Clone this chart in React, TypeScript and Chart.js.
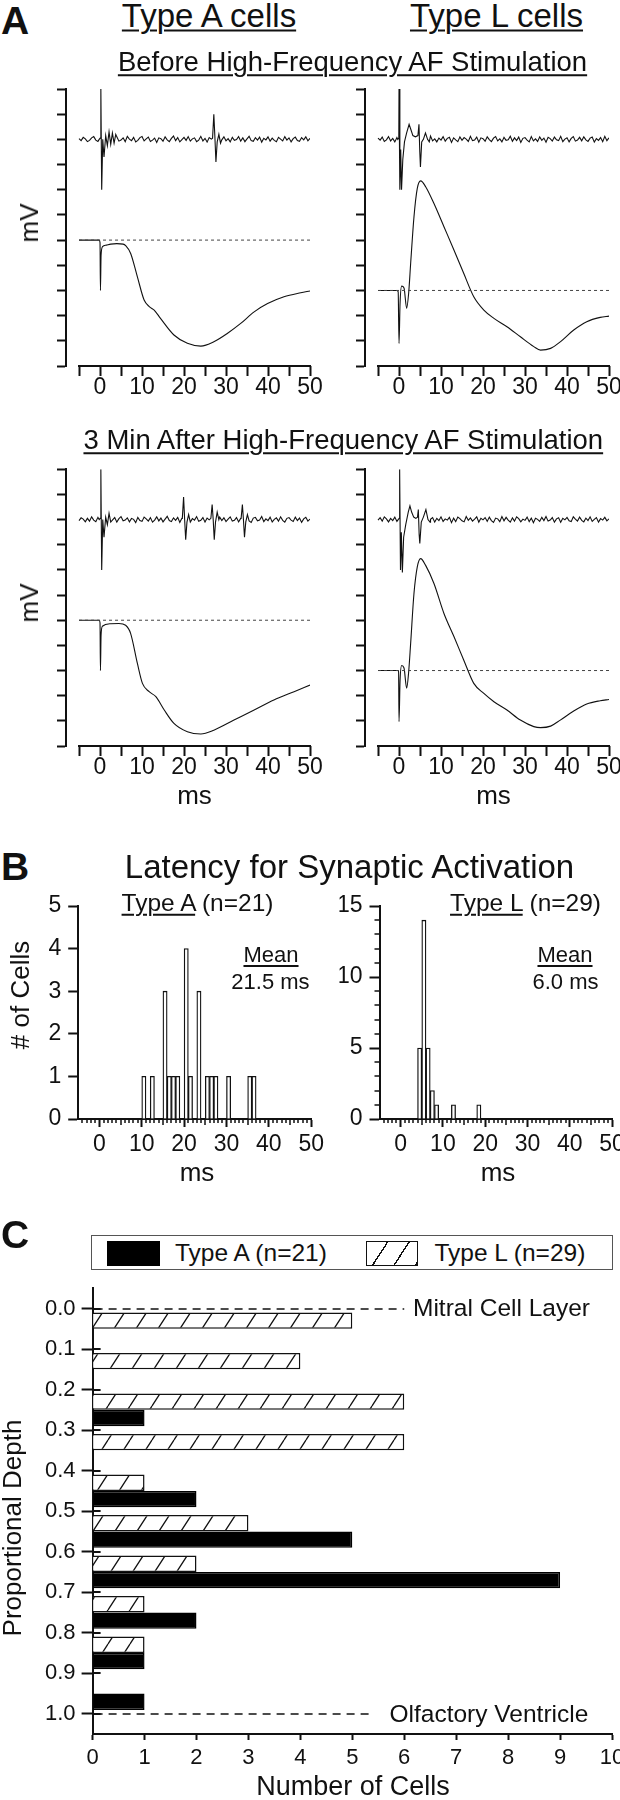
import React, { useEffect, useRef } from 'react';
import { Chart, registerables } from 'chart.js';

Chart.register(...registerables);

const FONT = '"Liberation Sans", Arial, Helvetica, sans-serif';
const INK = '#111';

// ================= Panel A data =================
const A_X_TICKS = [-5, 0, 5, 10, 15, 20, 25, 30, 35, 40, 45, 50];
const A_X_LABELS = [0, 10, 20, 30, 40, 50];
const A_Y_TICKS = [0, 1, 2, 3, 4, 5, 6, 7, 8, 9, 10, 11];

// extracellular traces: background noise sampled every 0.5 ms from -5 ms (hundredths of a division)
const EXT_START_MS = -5;
const EXT_STEP_MS = 0.5;
const EXT_LEVEL = 9;
const INTRA_A_LEVEL = 5;
const INTRA_L_LEVEL = 3;

const NOISE_A_BEFORE = [
  3, -5, 8, 2, -9, -4, 6, 11, -3, -8,
  5, -2, 9, -6, -11, 4, 7, -1, 10, -7,
  -3, 6, -9, 12, 1, -5, 8, -10, -4, 7,
  11, -6, 2, 9, -8, -3, 5, -12, 6, 3,
  -7, 10, -2, -9, 4, 13, -5, 7, -10, -1,
  8, -4, 11, -7, 2, 6, -9, -3, 12, -6,
  4, -11, 7, 1, -5, 9, -8, 5, -2, 10,
  -6, 3, -10, 8, -4, -1, 11, -7, 6, -9,
  2, 12, -5, -8, 7, -3, 9, -11, 4, -2,
  10, -7, 5, -4, -9, 8, 1, -6, 11, -3,
  6, -10, 3, 9, -5, -8, 7, -2, 10, -6,
  4,
];
const NOISE_A_AFTER = [
  -4, 7, 2, -9, 5, -6, 11, -2, -8, 9,
  3, -11, 6, -3, 10, -7, -1, 8, -10, 4,
  12, -5, -2, 7, -9, 5, 1, -12, 9, -4,
  -7, 10, 3, -6, 8, -10, -2, 11, -5, 6,
  -9, 2, 13, -4, -8, 7, -3, 9, -11, 5,
  1, -6, 10, -8, 4, -2, 12, -7, -3, 8,
  -10, 6, -1, 9, -5, 3, -12, 10, -4, 7,
  -8, 2, 11, -6, -3, 8, -9, 5, -1, 10,
  -7, 4, -11, 6, 9, -5, -2, 12, -8, 3,
  -4, 10, -9, 1, 7, -6, 11, -3, -10, 5,
  8, -2, -7, 10, -4, 6, -11, 3, 9, -6,
  2,
];
const NOISE_L_BEFORE = [
  5, -3, 9, -8, -2, 11, -6, 4, -10, 7,
  1, -9, 12, -4, 6, -7, -2, 10, -11, 3,
  8, -5, -1, 9, -8, 13, -6, 2, -10, 5,
  -3, 11, -7, 4, 8, -12, 6, -2, -9, 10,
  -4, 7, 1, -8, 12, -5, -3, 9, -11, 6,
  3, -7, 10, -1, -9, 5, 11, -6, 2, -10,
  8, -4, -2, 12, -8, 6, -5, 9, -12, 4,
  7, -3, -10, 11, -6, 2, -8, 10, -4, 5,
  -11, 8, 3, -7, 9, -2, -5, 12, -9, 1,
  6, -10, 4, 11, -7, -3, 8, -6, 10, -2,
  -8, 5, 9, -11, 3, -4, 7, -9, 12, -5,
  6,
];
const NOISE_L_AFTER = [
  -2, 8, -6, 11, 3, -9, 5, -4, 10, -7,
  -1, 12, -8, 4, -10, 6, 2, -11, 9, -5,
  7, -3, -9, 13, -6, 1, 8, -10, 5, -4,
  11, -7, 3, -2, 9, -12, 6, -8, 10, 4,
  -5, -9, 12, -3, 7, -6, 2, 11, -10, 5,
  -1, 8, -7, 10, -4, -11, 6, 3, -8, 12,
  -5, 9, -2, -10, 7, -6, 11, 4, -9, 2,
  -3, 10, -8, 6, -12, 5, 1, -7, 9, -4,
  12, -6, -2, 8, -10, 3, 7, -11, 5, -1,
  9, -5, -8, 11, 2, -6, 10, -3, -9, 6,
  -4, 11, -7, 1, 8, -10, 4, -2, 9, -5,
  3,
];

// spikes / stimulus artefacts on the extracellular traces: [ms, level]
const EVENTS_A_BEFORE = [
  [[-0.2, 9.0], [0.05, 9.05], [0.2, 11.0], [0.4, 7.0], [0.65, 9.0], [0.95, 8.3], [1.35, 9.15], [1.75, 8.75], [2.15, 9.3], [2.55, 8.8], [2.95, 9.25], [3.35, 8.85], [3.75, 9.2]],
  [[26.8, 9.05], [27.1, 10.0], [27.35, 9.1], [27.6, 8.1], [27.9, 8.9], [28.3, 9.2], [28.7, 8.85]],
];
const EVENTS_A_AFTER = [
  [[-0.2, 9.0], [0.05, 9.05], [0.2, 11.0], [0.4, 7.0], [0.65, 9.0], [0.95, 8.3], [1.35, 9.1], [1.75, 8.8], [2.15, 9.25], [2.55, 8.9]],
  [[19.6, 9.05], [19.9, 9.9], [20.15, 9.0], [20.4, 8.2], [20.7, 8.9], [21.1, 9.2], [21.5, 8.9]],
  [[26.4, 9.05], [26.7, 9.6], [26.95, 9.0], [27.2, 8.2], [27.5, 8.9], [27.9, 9.3], [28.3, 9.0]],
  [[33.6, 9.05], [33.9, 9.6], [34.15, 9.0], [34.4, 8.3], [34.7, 8.9], [35.1, 9.2], [35.5, 8.95]],
];
const EVENTS_L_BEFORE = [
  [[-0.3, 9.0], [-0.05, 9.05], [0.0, 11.0], [0.2, 7.0], [0.4, 8.6], [0.6, 7.0], [0.9, 8.2], [1.3, 8.9], [1.8, 9.25], [2.4, 9.6], [2.8, 9.4], [3.3, 9.15], [3.9, 9.1], [4.5, 9.15], [4.75, 9.6], [4.95, 8.5], [5.1, 7.9], [5.4, 8.9], [5.8, 9.0], [6.3, 9.25], [6.8, 9.0], [7.2, 8.9]],
];
const EVENTS_L_AFTER = [
  [[-0.2, 9.0], [0.05, 9.05], [0.15, 11.0], [0.35, 7.0], [0.55, 8.5], [0.8, 6.9], [1.1, 8.3], [1.6, 8.8], [2.2, 9.3], [2.6, 9.55], [3.0, 9.3], [3.5, 9.1], [4.0, 9.05], [4.4, 9.1], [4.6, 9.4], [4.8, 8.4], [4.95, 8.05], [5.3, 8.9], [5.8, 9.1], [6.4, 9.4], [6.9, 9.0], [7.4, 8.9]],
];

// intracellular (field) traces: [ms, level]
const INTRA_A_BEFORE = [
  [-5, 5.0], [-0.2, 5.0], [0.0, 4.9], [0.1, 3.0], [0.25, 4.4], [0.6, 4.74], [1.5, 4.8], [2.55, 4.84], [4.0, 4.86], [5.5, 4.84], [6.1, 4.78],
  [7.3, 4.47], [8.9, 3.54], [10.5, 2.62], [11.8, 2.35], [12.9, 2.22], [14.4, 1.89], [17.6, 1.23], [20.8, 0.9], [24, 0.79], [27.1, 0.96],
  [30.3, 1.29], [33.5, 1.69], [36.7, 2.15], [39.9, 2.48], [43.8, 2.75], [47.8, 2.91], [50, 2.98],
];
const INTRA_A_AFTER = [
  [-5, 5.0], [-0.2, 5.0], [0.0, 4.9], [0.1, 3.0], [0.25, 4.4], [0.56, 4.76], [2.55, 4.86], [4.5, 4.87], [6.1, 4.8], [7.3, 4.47],
  [8.9, 3.28], [10.1, 2.49], [11.7, 2.16], [13.3, 1.96], [15.3, 1.43], [17.6, 0.9], [20.8, 0.57], [24, 0.48], [27.1, 0.63],
  [31.9, 1.03], [36.7, 1.43], [41.4, 1.83], [46.2, 2.16], [50, 2.42],
];
const INTRA_L_BEFORE = [
  [-5, 3.0], [-0.55, 3.0], [-0.2, 2.95], [0.0, 0.9], [0.25, 2.5], [0.63, 3.17], [1.19, 3.1], [1.82, 2.29], [2.3, 2.9], [2.77, 4.07],
  [3.56, 5.92], [4.35, 7.05], [5.15, 7.35], [6.34, 7.12], [8.32, 6.45], [10.7, 5.53], [13.1, 4.6], [15.4, 3.68], [17.8, 2.75],
  [20.2, 2.22], [22.6, 1.89], [25.7, 1.56], [28.9, 1.16], [32.1, 0.77], [33.7, 0.63], [36.1, 0.7], [38.4, 0.96], [41.6, 1.43],
  [44.7, 1.76], [47.9, 1.93], [50, 1.98],
];
const INTRA_L_AFTER = [
  [-5, 3.0], [-0.3, 3.0], [-0.1, 2.95], [0.0, 0.97], [0.25, 2.6], [0.63, 3.2], [1.19, 3.1], [1.82, 2.3], [2.3, 2.95], [2.77, 4.08],
  [3.56, 6.06], [4.35, 7.12], [5.15, 7.45], [6.34, 7.18], [8.32, 6.46], [10.7, 5.27], [13.1, 4.34], [15.4, 3.42], [17.8, 2.49],
  [20.2, 2.09], [22.6, 1.76], [25.7, 1.43], [28.9, 1.03], [32.1, 0.77], [33.7, 0.73], [36.1, 0.79], [38.4, 1.03], [41.6, 1.39],
  [44.7, 1.67], [47.9, 1.8], [50, 1.85],
];

// ================= Panel B data =================
const HIST_X_LABELS = [0, 10, 20, 30, 40, 50];
const HIST_A_BINS = [10.5, 12.5, 15.5, 16.5, 17.5, 18.5, 20.5, 21.5, 23.5, 25.5, 26.5, 27.5, 30.5, 35.5, 36.5];
const HIST_A_COUNTS = [1, 1, 3, 1, 1, 1, 4, 1, 3, 1, 1, 1, 1, 1, 1];
const HIST_A_Y_TICKS = [0, 1, 2, 3, 4, 5];
const HIST_L_BINS = [4.5, 5.5, 6.5, 7.5, 8.5, 12.5, 18.5];
const HIST_L_COUNTS = [5, 14, 5, 2, 1, 1, 1];
const HIST_L_Y_TICKS = [0, 5, 10, 15];

// ================= Panel C data =================
const DEPTH_CENTERS = [0.05, 0.15, 0.25, 0.35, 0.45, 0.55, 0.65, 0.75, 0.85, 0.95];
const TYPE_A_COUNTS = [0, 0, 1, 0, 2, 5, 9, 2, 1, 1];
const TYPE_L_COUNTS = [5, 4, 6, 6, 1, 3, 2, 1, 1, 0];
const C_Y_TICKS = [0.0, 0.1, 0.2, 0.3, 0.4, 0.5, 0.6, 0.7, 0.8, 0.9, 1.0];
const C_X_TICKS = [0, 1, 2, 3, 4, 5, 6, 7, 8, 9, 10];
const REF_LINES = [
  { depth: 0.0, to: 6.0, label: 'Mitral Cell Layer' },
  { depth: 1.0, to: 5.4, label: 'Olfactory Ventricle' },
];

// ================= helpers =================
function extTrace(noise: number[], events: number[][][]) {
  const windows = events.map((g) => [g[0][0], g[g.length - 1][0]]);
  const pts: { x: number; y: number }[] = [];
  noise.forEach((d, i) => {
    const t = EXT_START_MS + i * EXT_STEP_MS;
    if (windows.some(([a, b]) => t >= a && t <= b)) return;
    pts.push({ x: t, y: EXT_LEVEL + d / 100 });
  });
  events.forEach((g) => g.forEach(([t, y]) => pts.push({ x: t, y })));
  return pts.sort((p, q) => p.x - q.x);
}
const toXY = (arr: number[][]) => arr.map(([x, y]) => ({ x, y }));

const axisLinePlugin = (from: number, to: number) => ({
  id: 'axisLine',
  afterDraw(chart: any) {
    const s = chart.scales.x;
    const ctx = chart.ctx;
    const y = chart.chartArea.bottom;
    ctx.save();
    ctx.strokeStyle = INK;
    ctx.lineWidth = 2;
    ctx.beginPath();
    ctx.moveTo(s.getPixelForValue(from) - 1, y);
    ctx.lineTo(s.getPixelForValue(to) + 1, y);
    ctx.stroke();
    ctx.restore();
  },
});

type TickSet = { axis: 'x' | 'y'; values: number[]; len: number; dir?: 'in' | 'out'; width?: number };
const extraTicksPlugin = (items: TickSet[]) => ({
  id: 'extraTicks',
  afterDraw(chart: any) {
    const ctx = chart.ctx;
    const ca = chart.chartArea;
    items.forEach((it) => {
      const s = chart.scales[it.axis];
      ctx.save();
      ctx.strokeStyle = INK;
      ctx.lineWidth = it.width || 1.5;
      ctx.beginPath();
      it.values.forEach((v) => {
        const p = Math.round(s.getPixelForValue(v));
        if (it.axis === 'x') {
          const y0 = ca.bottom;
          ctx.moveTo(p, y0);
          ctx.lineTo(p, it.dir === 'in' ? y0 - it.len : y0 + it.len);
        } else {
          const x0 = ca.left;
          ctx.moveTo(x0, p);
          ctx.lineTo(it.dir === 'in' ? x0 + it.len : x0 - it.len, p);
        }
      });
      ctx.stroke();
      ctx.restore();
    });
  },
});

const refLinesPlugin = (lines: { depth: number; to: number }[]) => ({
  id: 'refLines',
  afterDatasetsDraw(chart: any) {
    const ctx = chart.ctx;
    const sx = chart.scales.x;
    const sy = chart.scales.y;
    ctx.save();
    ctx.strokeStyle = INK;
    ctx.lineWidth = 1.5;
    ctx.setLineDash([8, 6]);
    lines.forEach((l) => {
      const y = Math.round(sy.getPixelForValue(l.depth));
      ctx.beginPath();
      ctx.moveTo(sx.getPixelForValue(0) + 2, y);
      ctx.lineTo(sx.getPixelForValue(l.to), y);
      ctx.stroke();
    });
    ctx.restore();
  },
});

function makeHatch() {
  const c = document.createElement('canvas');
  c.width = 22;
  c.height = 34;
  const g = c.getContext('2d')!;
  g.fillStyle = '#fff';
  g.fillRect(0, 0, 22, 34);
  g.strokeStyle = INK;
  g.lineWidth = 1.3;
  g.beginPath();
  [-22, 0, 22].forEach((dx) => {
    g.moveTo(dx, 34);
    g.lineTo(dx + 22, 0);
  });
  g.stroke();
  return g.createPattern(c, 'repeat');
}

const tickFont = (size: number) => ({ family: FONT, size, lineHeight: 1 });

// ================= chart configs =================
function traceConfig(ext: any[], intra: any[], level: number, yW: number, xH: number, padding: any) {
  return {
    type: 'line',
    data: {
      datasets: [
        { data: [{ x: -5, y: level }, { x: 50, y: level }], borderColor: '#444', borderWidth: 1, borderDash: [3, 3], pointRadius: 0 },
        { data: ext, borderColor: INK, borderWidth: 1.1, pointRadius: 0, tension: 0 },
        { data: intra, borderColor: INK, borderWidth: 1.1, pointRadius: 0, cubicInterpolationMode: 'monotone' },
      ],
    },
    options: {
      animation: false,
      responsive: false,
      events: [],
      layout: { padding, autoPadding: false },
      plugins: { legend: { display: false }, tooltip: { enabled: false } },
      scales: {
        x: {
          type: 'linear', min: -8.1, max: 50,
          afterBuildTicks: (s: any) => { s.ticks = A_X_TICKS.map((v) => ({ value: v })); },
          afterFit: (s: any) => { s.height = xH; },
          border: { display: false },
          grid: { drawOnChartArea: false, drawTicks: true, tickLength: 10, tickWidth: 2, tickColor: INK },
          ticks: {
            autoSkip: false, maxRotation: 0, padding: 0, color: INK, font: tickFont(23),
            callback: (v: number) => (A_X_LABELS.includes(v) ? String(v) : ''),
          },
        },
        y: {
          type: 'linear', min: 0, max: 11,
          afterBuildTicks: (s: any) => { s.ticks = A_Y_TICKS.map((v) => ({ value: v })); },
          afterFit: (s: any) => { s.width = yW; },
          border: { display: true, width: 2, color: INK },
          grid: { drawOnChartArea: false, drawTicks: true, tickLength: 9, tickWidth: 2, tickColor: INK },
          ticks: { display: false },
        },
      },
    },
    plugins: [axisLinePlugin(-5, 50)],
  };
}

function histConfig(bins: number[], counts: number[], yMax: number, yTicks: number[], minorY: number[], yW: number, xH: number, padding: any) {
  const minorX: number[] = [];
  const midX: number[] = [];
  for (let v = -4; v <= 49; v++) {
    if (v % 10 === 0) continue;
    if (v % 5 === 0) midX.push(v);
    else minorX.push(v);
  }
  const items: TickSet[] = [
    { axis: 'x', values: minorX, len: 4 },
    { axis: 'x', values: midX, len: 6 },
  ];
  if (minorY.length) items.push({ axis: 'y', values: minorY, len: 5 });
  return {
    type: 'bar',
    data: {
      datasets: [{
        data: bins.map((b, i) => ({ x: b, y: counts[i] })),
        backgroundColor: '#fff', borderColor: INK, borderWidth: 1.3,
        barPercentage: 1, categoryPercentage: 1,
      }],
    },
    options: {
      animation: false,
      responsive: false,
      events: [],
      layout: { padding, autoPadding: false },
      plugins: { legend: { display: false }, tooltip: { enabled: false } },
      scales: {
        x: {
          type: 'linear', min: -5, max: 50, offset: false,
          afterBuildTicks: (s: any) => { s.ticks = HIST_X_LABELS.map((v) => ({ value: v })); },
          afterFit: (s: any) => { s.height = xH; },
          border: { display: true, width: 2, color: INK },
          grid: { offset: false, drawOnChartArea: false, drawTicks: true, tickLength: 8, tickWidth: 2, tickColor: INK },
          ticks: { autoSkip: false, maxRotation: 0, padding: 6.5, color: INK, font: tickFont(23) },
        },
        y: {
          type: 'linear', min: 0, max: yMax,
          afterBuildTicks: (s: any) => { s.ticks = yTicks.map((v) => ({ value: v })); },
          afterFit: (s: any) => { s.width = yW; },
          border: { display: true, width: 2, color: INK },
          grid: { drawOnChartArea: false, drawTicks: true, tickLength: 10, tickWidth: 2, tickColor: INK },
          ticks: { autoSkip: false, padding: 7, color: INK, font: tickFont(23) },
        },
      },
    },
    plugins: [extraTicksPlugin(items)],
  };
}

function depthConfig(yW: number, xH: number, padding: any) {
  const hatch = makeHatch();
  return {
    type: 'bar',
    data: {
      datasets: [
        {
          label: 'Type L (n=29)',
          data: DEPTH_CENTERS.map((d, i) => ({ x: TYPE_L_COUNTS[i] === 0 ? null : TYPE_L_COUNTS[i], y: d })),
          backgroundColor: hatch, borderColor: INK, borderWidth: 1.5,
          barPercentage: 1, categoryPercentage: 0.81,
        },
        {
          label: 'Type A (n=21)',
          data: DEPTH_CENTERS.map((d, i) => ({ x: TYPE_A_COUNTS[i] === 0 ? null : TYPE_A_COUNTS[i], y: d })),
          backgroundColor: '#000', borderColor: '#000', borderWidth: 1.5,
          barPercentage: 1, categoryPercentage: 0.81,
        },
      ],
    },
    options: {
      indexAxis: 'y',
      animation: false,
      responsive: false,
      events: [],
      layout: { padding, autoPadding: false },
      plugins: { legend: { display: false }, tooltip: { enabled: false } },
      scales: {
        x: {
          type: 'linear', min: 0, max: 10, offset: false,
          afterBuildTicks: (s: any) => { s.ticks = C_X_TICKS.map((v) => ({ value: v })); },
          afterFit: (s: any) => { s.height = xH; },
          border: { display: true, width: 2, color: INK },
          grid: { offset: false, drawOnChartArea: false, drawTicks: true, tickLength: 6, tickWidth: 2, tickColor: INK },
          ticks: { autoSkip: false, maxRotation: 0, padding: 7, color: INK, font: tickFont(22) },
        },
        y: {
          type: 'linear', min: -0.05, max: 1.05, reverse: true, offset: false,
          afterBuildTicks: (s: any) => { s.ticks = C_Y_TICKS.map((v) => ({ value: v })); },
          afterFit: (s: any) => { s.width = yW; },
          border: { display: true, width: 2, color: INK },
          grid: { offset: false, drawOnChartArea: false, drawTicks: true, tickLength: 11, tickWidth: 2, tickColor: INK },
          ticks: { autoSkip: false, padding: 6, color: INK, font: tickFont(22), callback: (v: number) => v.toFixed(1) },
        },
      },
    },
    plugins: [
      refLinesPlugin(REF_LINES),
      extraTicksPlugin([{ axis: 'y', values: C_Y_TICKS, len: 8, dir: 'in', width: 2 }]),
    ],
  };
}

// ================= components =================
type Rect = { x: number; y: number; w: number; h: number };
type Area = { l: number; t: number; r: number; b: number };

function ChartBox({ rect, area, yW, xH, make }: { rect: Rect; area: Area; yW: number; xH: number; make: (yW: number, xH: number, padding: any) => any }) {
  const ref = useRef<HTMLCanvasElement>(null);
  useEffect(() => {
    const padding = {
      left: area.l - rect.x - yW,
      top: area.t - rect.y,
      right: rect.x + rect.w - area.r,
      bottom: rect.y + rect.h - area.b - xH,
    };
    const chart = new Chart(ref.current as any, make(yW, xH, padding));
    return () => chart.destroy();
  }, []);
  return (
    <canvas
      ref={ref}
      width={rect.w}
      height={rect.h}
      style={{ position: 'absolute', left: rect.x, top: rect.y, width: rect.w, height: rect.h }}
    />
  );
}

function Txt({ x, y, size, anchor = 'center', bold = false, rot = 0, underline = false, children }: any) {
  const tx = anchor === 'center' ? '-50%' : anchor === 'right' ? '-100%' : '0%';
  return (
    <div
      style={{
        position: 'absolute', left: x, top: y, whiteSpace: 'nowrap',
        fontFamily: FONT, fontSize: size, fontWeight: bold ? 'bold' : 'normal', lineHeight: 1, color: INK,
        transform: `translate(${tx}, -50%) rotate(${rot}deg)`,
        textDecoration: underline ? 'underline' : 'none',
        textDecorationThickness: '2px', textUnderlineOffset: '3px',
      }}
    >
      {children}
    </div>
  );
}

const U = ({ children }: any) => (
  <span style={{ textDecoration: 'underline', textDecorationThickness: '2px', textUnderlineOffset: '3px' }}>{children}</span>
);

const EXT_A_BEFORE = extTrace(NOISE_A_BEFORE, EVENTS_A_BEFORE);
const EXT_A_AFTER = extTrace(NOISE_A_AFTER, EVENTS_A_AFTER);
const EXT_L_BEFORE = extTrace(NOISE_L_BEFORE, EVENTS_L_BEFORE);
const EXT_L_AFTER = extTrace(NOISE_L_AFTER, EVENTS_L_AFTER);

export default function App() {
  return (
    <div style={{ position: 'absolute', left: 0, top: 0, width: 620, height: 1800, overflow: 'hidden', background: '#fff' }}>
      {/* Panel A */}
      <ChartBox rect={{ x: 40, y: 70, w: 300, h: 340 }} area={{ l: 66, t: 89, r: 310, b: 366 }} yW={12} xH={40}
        make={(yW, xH, p) => traceConfig(EXT_A_BEFORE, toXY(INTRA_A_BEFORE), INTRA_A_LEVEL, yW, xH, p)} />
      <ChartBox rect={{ x: 339, y: 70, w: 311, h: 340 }} area={{ l: 365, t: 89, r: 609, b: 366 }} yW={12} xH={40}
        make={(yW, xH, p) => traceConfig(EXT_L_BEFORE, toXY(INTRA_L_BEFORE), INTRA_L_LEVEL, yW, xH, p)} />
      <ChartBox rect={{ x: 40, y: 450, w: 300, h: 340 }} area={{ l: 66, t: 469.3, r: 310, b: 746 }} yW={12} xH={40}
        make={(yW, xH, p) => traceConfig(EXT_A_AFTER, toXY(INTRA_A_AFTER), INTRA_A_LEVEL, yW, xH, p)} />
      <ChartBox rect={{ x: 339, y: 450, w: 311, h: 340 }} area={{ l: 365, t: 469.3, r: 609, b: 746 }} yW={12} xH={40}
        make={(yW, xH, p) => traceConfig(EXT_L_AFTER, toXY(INTRA_L_AFTER), INTRA_L_LEVEL, yW, xH, p)} />

      {/* Panel B */}
      <ChartBox rect={{ x: 30, y: 880, w: 310, h: 300 }} area={{ l: 78.2, t: 906, r: 311.2, b: 1119 }} yW={30} xH={40}
        make={(yW, xH, p) => histConfig(HIST_A_BINS, HIST_A_COUNTS, 5, HIST_A_Y_TICKS, [], yW, xH, p)} />
      <ChartBox rect={{ x: 330, y: 880, w: 320, h: 300 }} area={{ l: 379.5, t: 906, r: 612, b: 1119 }} yW={40} xH={40}
        make={(yW, xH, p) => histConfig(HIST_L_BINS, HIST_L_COUNTS, 15, HIST_L_Y_TICKS, [1, 2, 3, 4, 6, 7, 8, 9, 11, 12, 13, 14], yW, xH, p)} />

      {/* Panel C */}
      <ChartBox rect={{ x: 20, y: 1270, w: 630, h: 520 }} area={{ l: 92.6, t: 1288.3, r: 612, b: 1734 }} yW={60} xH={40}
        make={(yW, xH, p) => depthConfig(yW, xH, p)} />

      {/* Panel A texts */}
      <Txt x={1} y={20} size={39} bold anchor="left">A</Txt>
      <Txt x={209} y={15} size={33} underline>Type A cells</Txt>
      <Txt x={496.5} y={15} size={33} underline>Type L cells</Txt>
      <Txt x={352.5} y={62} size={27.5} underline>Before High-Frequency AF Stimulation</Txt>
      <Txt x={29} y={223} size={26} rot={-90}>mV</Txt>
      <Txt x={343.3} y={440} size={27.5} underline>3 Min After High-Frequency AF Stimulation</Txt>
      <Txt x={29} y={603} size={26} rot={-90}>mV</Txt>
      <Txt x={194.5} y={795} size={26}>ms</Txt>
      <Txt x={493.5} y={795} size={26}>ms</Txt>

      {/* Panel B texts */}
      <Txt x={1} y={866} size={39} bold anchor="left">B</Txt>
      <Txt x={349.5} y={866} size={33}>Latency for Synaptic Activation</Txt>
      <Txt x={197.5} y={903} size={24.5}><U>Type A</U> (n=21)</Txt>
      <Txt x={525.5} y={903} size={24.5}><U>Type L</U> (n=29)</Txt>
      <Txt x={271} y={955} size={22} underline>Mean</Txt>
      <Txt x={270.5} y={981.5} size={22}>21.5 ms</Txt>
      <Txt x={565} y={955} size={22} underline>Mean</Txt>
      <Txt x={565.5} y={981.5} size={22}>6.0 ms</Txt>
      <Txt x={20} y={995} size={26} rot={-90}># of Cells</Txt>
      <Txt x={197} y={1172} size={26}>ms</Txt>
      <Txt x={498} y={1172} size={26}>ms</Txt>

      {/* Panel C texts & legend */}
      <Txt x={1} y={1234} size={39} bold anchor="left">C</Txt>
      <div style={{ position: 'absolute', left: 90.6, top: 1235, width: 522.4, height: 35, border: '1px solid #555', boxSizing: 'border-box' }} />
      <div style={{ position: 'absolute', left: 106.5, top: 1240.7, width: 53.3, height: 25, background: '#000' }} />
      <Txt x={175} y={1253} size={24.5} anchor="left">Type A (n=21)</Txt>
      <div style={{
        position: 'absolute', left: 365.7, top: 1240.7, width: 52.8, height: 25, boxSizing: 'border-box', border: '1.5px solid #111',
        background: 'repeating-linear-gradient(123deg, #fff 0px, #fff 16.6px, #111 16.6px, #111 18px)',
      }} />
      <Txt x={434.4} y={1253} size={24.5} anchor="left">Type L (n=29)</Txt>
      <Txt x={413} y={1308} size={24.5} anchor="left">{REF_LINES[0].label}</Txt>
      <Txt x={389.5} y={1714} size={24.5} anchor="left">{REF_LINES[1].label}</Txt>
      <Txt x={12} y={1528} size={26} rot={-90}>Proportional Depth</Txt>
      <Txt x={353} y={1786} size={27}>Number of Cells</Txt>
    </div>
  );
}
